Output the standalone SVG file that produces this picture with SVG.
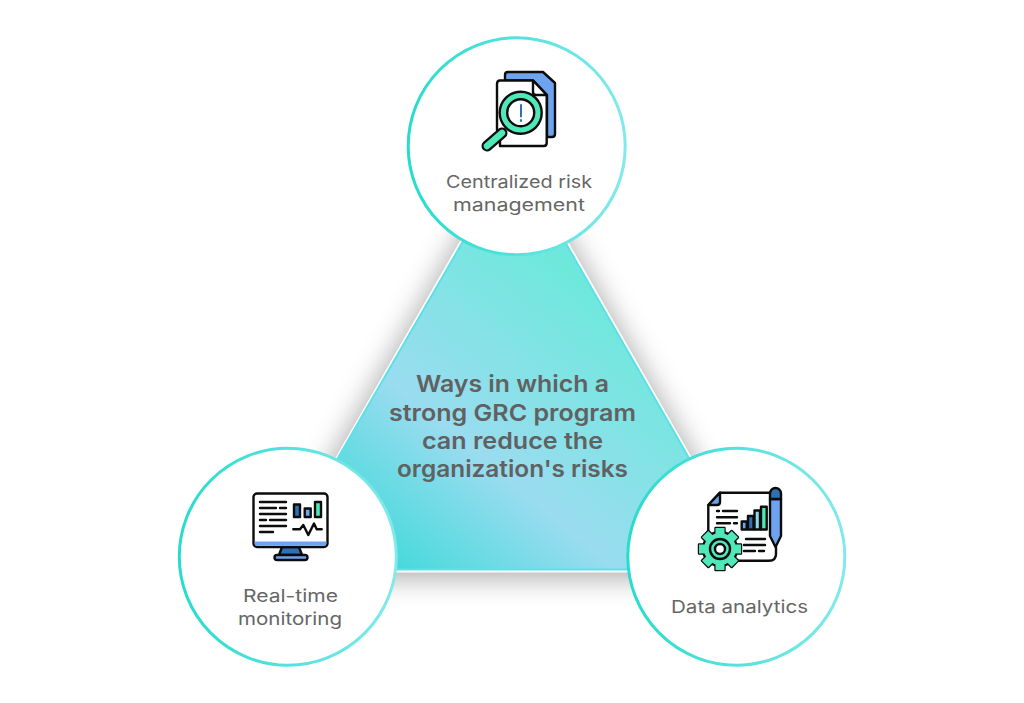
<svg xmlns="http://www.w3.org/2000/svg" width="1024" height="703" viewBox="0 0 1024 703">
<style>
text{font-family:"Inter","Liberation Sans",sans-serif;fill:#666;text-anchor:middle}
.lbl{font-size:17.5px;font-weight:400}
.ttl{font-size:23.5px;font-weight:600;fill:#616161}
.circ{fill:#fff;stroke:url(#ring);stroke-width:3}
.k{fill:none;stroke:#0c0c0c;stroke-width:2.4;stroke-linecap:round;stroke-linejoin:round}
.kf{stroke:#0c0c0c;stroke-width:2.4;stroke-linejoin:round;stroke-linecap:round}
.blue{fill:#6ea3f0}.dark{fill:#2f6fb5}.grn{fill:#4fe8b8}.wht{fill:#fff}
</style>
<defs>
<linearGradient id="ring" x1="0" y1="0" x2="1" y2="0">
<stop offset="0" stop-color="#26dccd"/><stop offset="1" stop-color="#82e9ec"/>
</linearGradient>
<linearGradient id="fillG" gradientUnits="userSpaceOnUse" x1="405" y1="575" x2="617" y2="317">
<stop offset="0" stop-color="#46dada"/><stop offset="0.42" stop-color="#9adcf0"/><stop offset="1" stop-color="#6fe8dc"/>
</linearGradient>
<filter id="soft" x="-30%" y="-30%" width="160%" height="160%"><feGaussianBlur stdDeviation="14"/></filter>
</defs>

<g id="triangle">
<polygon points="514,146 762,578 264,578" fill="#777" opacity="0.62" filter="url(#soft)"/>
<polygon points="514,150 755,571 272,571" fill="#fff" stroke="#fff" stroke-width="3"/>
<polygon points="514,153 753,569.5 273.500,569.500" fill="url(#fillG)" stroke="#5fdfe6" stroke-width="2"/>
<text class="ttl" x="512.500" y="392" textLength="193" lengthAdjust="spacingAndGlyphs">Ways in which a</text>
<text class="ttl" x="512.500" y="420.500" textLength="247" lengthAdjust="spacingAndGlyphs">strong GRC program</text>
<text class="ttl" x="512.500" y="449" textLength="181" lengthAdjust="spacingAndGlyphs">can reduce the</text>
<text class="ttl" x="512.500" y="477" textLength="231" lengthAdjust="spacingAndGlyphs">organization's risks</text>
</g>

<g id="node-centralized">
<circle class="circ" cx="516.700" cy="146.200" r="108.500"/>
<path class="blue kf" d="M508 72H543L555 83V134Q555 137 552 137H547V95L533 80.500H505V75Q505 72 508 72Z"/>
<path class="wht kf" d="M500 80.500H533L546.700 95V143Q546.700 146 543.700 146H500V136L497 130V84Q497 80.500 500 80.500Z"/>
<path class="kf" fill="#fff" d="M533 80.500V92Q533 95 536 95H546.700Z"/>
<path d="M502 133L487 146" stroke="#0c0c0c" stroke-width="11" stroke-linecap="round"/>
<path d="M502 133L487 146" stroke="#4fe8b8" stroke-width="6.500" stroke-linecap="round"/>
<circle class="grn kf" cx="520.700" cy="112.700" r="21"/>
<circle class="wht kf" cx="520.700" cy="112.700" r="13.500"/>
<path d="M521 105V116.500M521 120V121" stroke="#2f6fb5" stroke-width="2" stroke-linecap="round"/>
<text class="lbl" x="519" y="188" textLength="146" lengthAdjust="spacingAndGlyphs">Centralized risk</text>
<text class="lbl" x="519" y="211" textLength="132" lengthAdjust="spacingAndGlyphs">management</text>
</g>

<g id="node-realtime">
<circle class="circ" cx="287.800" cy="556.700" r="108.500"/>
<path class="dark kf" d="M282 547H299L302 555H279Z"/>
<path class="blue kf" d="M277 555H305Q307.500 555 307.500 557.500T305 560H277Q274.500 560 274.500 557.500T277 555Z"/>
<rect class="wht kf" x="253.500" y="493.500" width="74" height="53.500" rx="3.500"/>
<path class="blue" d="M254.700 541.500H326.300V544Q326.300 545.800 324.500 545.800H256.500Q254.700 545.800 254.700 544Z"/>
<path class="k" d="M260 502H286M260 508H276M280 508H286M260 514H286M260 520H266M270 520H286M260 526H286M260 532H273"/>
<rect class="dark kf" x="294" y="504.500" width="6" height="12.500"/>
<rect class="blue kf" x="304.700" y="508.500" width="6" height="8.500"/>
<rect class="grn kf" x="315" y="502" width="6" height="15"/>
<path class="k" d="M293.300 529.300H300L303.300 525L308.300 535L314 523.500L316.700 529.300H321.700"/>
<text class="lbl" x="290.500" y="602" textLength="95" lengthAdjust="spacingAndGlyphs">Real-time</text>
<text class="lbl" x="290" y="625" textLength="104" lengthAdjust="spacingAndGlyphs">monitoring</text>
</g>

<g id="node-data">
<circle class="circ" cx="736.300" cy="556.700" r="108.500"/>
<path class="k" d="M708.300 530V505L720 492.700H770M776 547V554Q776 560.700 769 560.700H738"/>
<path class="blue kf" d="M708.300 505L720 492.700V502Q720 505 717 505Z"/>
<path class="k" d="M717 511H719M723 511H737M717 517.300H737M717 523.300H730M734 523.300H737M746 539H765M744 545H765M744 551H755M759 551H764"/>
<rect class="blue kf" x="741.700" y="521.500" width="5" height="8"/>
<rect class="dark kf" x="748" y="516" width="5.500" height="13.500"/>
<rect fill="#8fd8e8" class="kf" x="754.500" y="510.500" width="5.500" height="19"/>
<rect class="grn kf" x="761" y="506.700" width="5.700" height="22.800"/>
<path class="blue kf" d="M770 499H781V536L775.500 547L770 536Z"/>
<path class="dark kf" d="M770 499V493.500A5.500 5.500 0 0 1 781 493.500V499Z"/>
<g transform="translate(720 549)">
<g fill="#0c0c0c" stroke="#0c0c0c" stroke-width="2.400" stroke-linejoin="round">
<circle r="17"/>
<rect x="-4.500" y="-21" width="9" height="42"/>
<rect x="-4.500" y="-21" width="9" height="42" transform="rotate(45)"/>
<rect x="-4.500" y="-21" width="9" height="42" transform="rotate(90)"/>
<rect x="-4.500" y="-21" width="9" height="42" transform="rotate(135)"/>
</g>
<g fill="#4fe8b8">
<circle r="16"/>
<rect x="-4.500" y="-21" width="9" height="42"/>
<rect x="-4.500" y="-21" width="9" height="42" transform="rotate(45)"/>
<rect x="-4.500" y="-21" width="9" height="42" transform="rotate(90)"/>
<rect x="-4.500" y="-21" width="9" height="42" transform="rotate(135)"/>
</g>
<circle r="10" fill="none" stroke="#0c0c0c" stroke-width="2.400"/>
<circle r="5" fill="#fff" stroke="#0c0c0c" stroke-width="2.400"/>
</g>
<text class="lbl" x="739.500" y="613" textLength="137" lengthAdjust="spacingAndGlyphs">Data analytics</text>
</g>
</svg>
